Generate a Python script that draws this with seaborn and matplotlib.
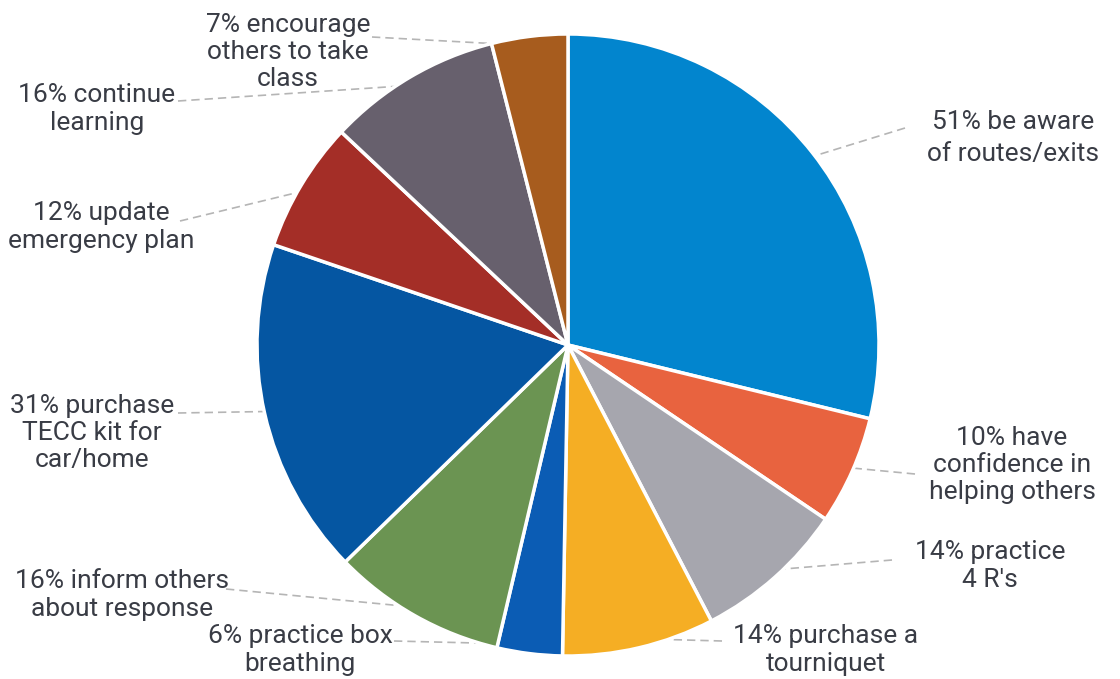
import matplotlib
matplotlib.use("Agg")
import matplotlib.pyplot as plt
import seaborn as sns
import numpy as np
from matplotlib import font_manager

# slice values, clockwise from 12 o'clock
values = [51, 10, 14, 14, 6, 16, 31, 12, 16, 7]
labels = [
    "51% be aware\nof routes/exits",
    "10% have\nconfidence in\nhelping others",
    "14% practice\n4 R's",
    "14% purchase a\ntourniquet",
    "6% practice box\nbreathing",
    "16% inform others\nabout response",
    "31% purchase\nTECC kit for\ncar/home",
    "12% update\nemergency plan",
    "16% continue\nlearning",
    "7% encourage\nothers to take\nclass",
]
colors = ["#0285CE", "#E8633F", "#A6A6AE", "#F5AE24", "#0B5CB4",
          "#6B9452", "#0556A2", "#A42E27", "#67606D", "#A75C1E"]

# label text centres and leader start points (pixel coords, y from top)
label_pos = [(1013, 138), (1012, 465), (990, 566), (826, 650), (300, 650),
             (122, 595), (92, 433), (101, 227), (97, 109), (288, 52)]
leader_start = [(905, 128), (915, 474), (892, 560), (722, 641), (394, 641),
                (226, 589), (178, 413), (180, 221), (178, 101), (372, 37)]
spacing = [1.38, 1.18, 1.18, 1.18, 1.18, 1.18, 1.18, 1.18, 1.18, 1.18]

W, H = 1120, 679
cx, cy, R = 568, 345, 311

sns.set_style("white")
avail = {f.name for f in font_manager.fontManager.ttflist}
fam = [f for f in ["Liberation Sans Narrow", "Roboto", "DejaVu Sans"] if f in avail]
plt.rcParams["font.family"] = fam

fig = plt.figure(figsize=(11.2, 6.79), dpi=100)
ax = fig.add_axes([0, 0, 1, 1])

wedges, _ = ax.pie(values, colors=colors, startangle=90, counterclock=False,
                   center=(cx, H - cy), radius=R,
                   wedgeprops=dict(edgecolor="white", linewidth=2.5))
for w in wedges:
    w.set_zorder(3)

for w, lab, (tx, ty), (lx, ly), ls in zip(wedges, labels, label_pos, leader_start, spacing):
    mid = np.deg2rad((w.theta1 + w.theta2) / 2)
    px = cx + 0.97 * R * np.cos(mid)
    py = (H - cy) + 0.97 * R * np.sin(mid)
    ax.plot([lx, px], [H - ly, py], color="#b5b5b5", lw=1.2,
            ls=(0, (5, 3)), zorder=2)
    ax.text(tx, H - ty, lab, ha="center", va="center", fontsize=19,
            color="#393c45", linespacing=ls, zorder=4)

ax.set_xlim(0, W)
ax.set_ylim(0, H)
ax.set_aspect("equal")
ax.axis("off")

fig.savefig("out.png", dpi=100, facecolor="white")
